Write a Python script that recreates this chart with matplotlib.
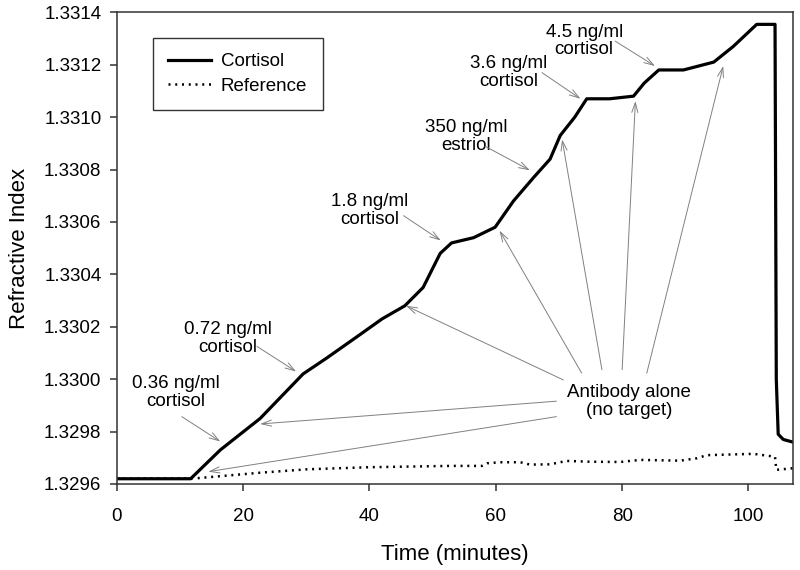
import numpy as np
import matplotlib.pyplot as plt
from matplotlib.ticker import FormatStrFormatter

plt.rcParams['font.family'] = ['Liberation Sans', 'DejaVu Sans']

# cortisol sensor trace (time in minutes, refractive index)
cort_t = [0, 5, 11.7, 16.4, 22.7, 29.5, 33.2, 38.5, 42.0, 45.6, 48.5, 51.2,
          53.0, 56.5, 59.9, 62.8, 66.0, 68.6, 70.2, 72.5, 74.4, 78.0, 81.8,
          83.5, 85.8, 89.7, 94.5, 97.6, 101.3, 104.2, 104.4, 104.7, 105.5, 107.0]
cort_n = [1.32962, 1.32962, 1.32962, 1.32973, 1.32985, 1.33002, 1.33008,
          1.33017, 1.33023, 1.33028, 1.33035, 1.33048, 1.33052, 1.33054,
          1.33058, 1.33068, 1.33077, 1.33084, 1.33093, 1.33100, 1.33107,
          1.33107, 1.33108, 1.33113, 1.33118, 1.33118, 1.33121, 1.33127,
          1.331354, 1.331354, 1.33000, 1.32979, 1.32977, 1.32976]

# reference channel
ref_t = [0, 12.7, 22.7, 30.1, 40.0, 52.8, 57.8, 58.6, 60.7, 63.9, 65.4, 68.6,
         71.2, 74.9, 79.7, 82.9, 89.2, 91.8, 93.4, 100.8, 104.2, 104.4, 107.0]
ref_n = [1.32962, 1.329622, 1.329643, 1.329656, 1.329664, 1.329669, 1.329669,
         1.329679, 1.329683, 1.329683, 1.329674, 1.329675, 1.329688, 1.329685,
         1.329684, 1.329692, 1.329689, 1.329698, 1.32971, 1.329715, 1.329704,
         1.329654, 1.32966]

# labelled injections: text, text centre, arrow start, arrow tip
inj_labels = ['0.36 ng/ml\ncortisol', '0.72 ng/ml\ncortisol',
              '1.8 ng/ml\ncortisol', '350 ng/ml\nestriol',
              '3.6 ng/ml\ncortisol', '4.5 ng/ml\ncortisol']
inj_text = [(9.4, 1.329948), (17.6, 1.330155), (40.1, 1.330643),
            (55.3, 1.330927), (62.1, 1.33117), (74.0, 1.33129)]
inj_from = [(10.3, 1.329857), (22.2, 1.330125), (45.4, 1.330624),
            (58.3, 1.330889), (67.3, 1.33117), (78.9, 1.33129)]
inj_tip = [(16.4, 1.329762), (28.4, 1.330029), (51.3, 1.330529),
           (65.4, 1.330797), (73.4, 1.33107), (85.2, 1.331195)]

# antibody-only injections
ab_label = 'Antibody alone\n(no target)'
ab_text = (81.1, 1.329915)
ab_from = [(69.6, 1.329857), (69.6, 1.329916), (70.7, 1.329997),
           (73.6, 1.330023), (76.8, 1.330036), (80.0, 1.330036),
           (83.9, 1.330023)]
ab_tip = [(14.5, 1.329647), (22.7, 1.329829), (45.8, 1.33028),
          (60.6, 1.330567), (70.5, 1.330915), (82.1, 1.331061),
          (96.0, 1.331195)]

fig = plt.figure(figsize=(8, 5.7), dpi=100)
ax = fig.add_axes([0.1459, 0.1509, 0.845, 0.8275])

ax.plot(cort_t, cort_n, color='black', lw=2.3, label='Cortisol')
ax.plot(ref_t, ref_n, color='black', lw=1.8, linestyle=(0, (0.8, 1.9)),
        label='Reference')

arrow = dict(arrowstyle='->,head_length=0.7,head_width=0.22', color='0.5',
             lw=0.7, shrinkA=0, shrinkB=0)
fs = 13.5
for lab, tc, st, tp in zip(inj_labels, inj_text, inj_from, inj_tip):
    ax.text(tc[0], tc[1], lab, ha='center', va='center', fontsize=fs,
            linespacing=1.05)
    ax.annotate('', xy=tp, xytext=st, arrowprops=arrow)

ax.text(ab_text[0], ab_text[1], ab_label, ha='center', va='center',
        fontsize=fs, linespacing=1.05)
for st, tp in zip(ab_from, ab_tip):
    ax.annotate('', xy=tp, xytext=st, arrowprops=arrow)

ax.set_xlim(0, 107)
ax.set_ylim(1.3296, 1.3314)
ax.set_xticks([0, 20, 40, 60, 80, 100])
ax.set_yticks(np.arange(1.3296, 1.33141, 0.0002))
ax.yaxis.set_major_formatter(FormatStrFormatter('%.4f'))
ax.tick_params(direction='out', length=5, width=1.1, labelsize=13.5,
               color='0.2', pad=6)
ax.tick_params(axis='x', pad=12)
for sp in ax.spines.values():
    sp.set_linewidth(1.1)
    sp.set_color('0.2')

ax.set_xlabel('Time (minutes)', fontsize=16, labelpad=14)
ax.set_ylabel('Refractive Index', fontsize=16, labelpad=10)

leg = ax.legend(loc='upper left', bbox_to_anchor=(0.053, 0.946),
                borderaxespad=0, fontsize=13.5, handlelength=2.3,
                handletextpad=0.5, fancybox=False, framealpha=1,
                borderpad=0.83, labelspacing=0.39)
leg.get_frame().set_edgecolor('0.2')
leg.get_frame().set_linewidth(1.0)

fig.savefig('out.png', dpi=100)
